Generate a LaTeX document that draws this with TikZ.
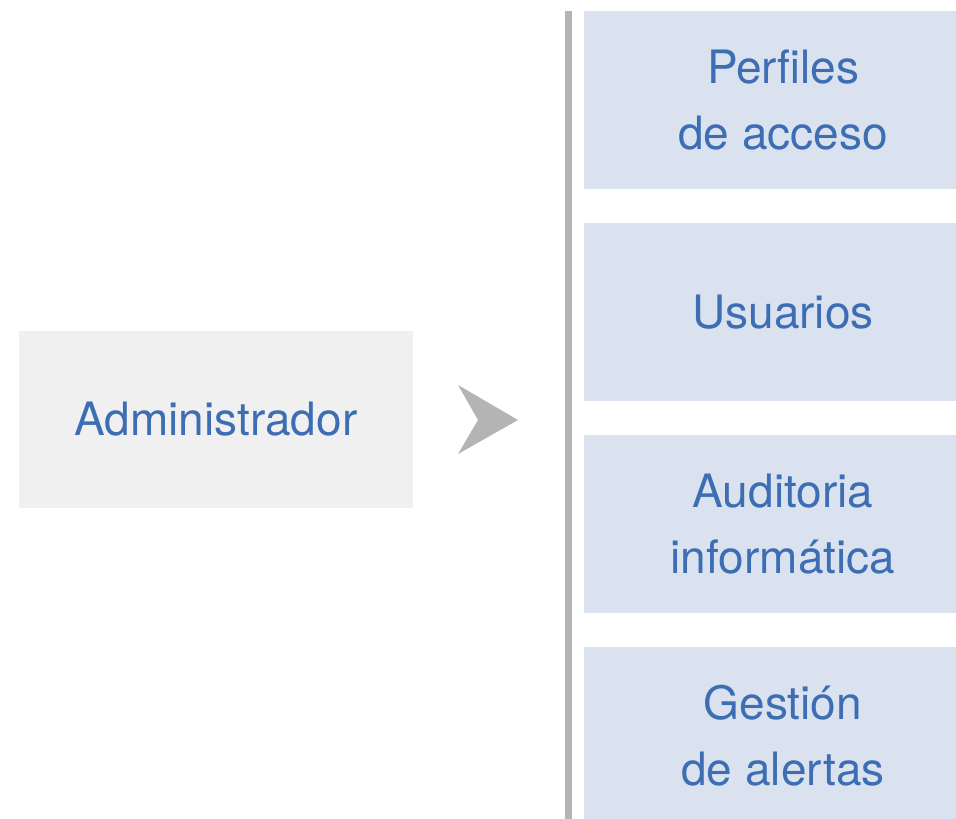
\documentclass[tikz,border=0pt]{standalone}
\usepackage{fontspec}
\setmainfont{TeX Gyre Heros}
\definecolor{txtblue}{RGB}{61,110,180}
\definecolor{boxblue}{RGB}{217,226,238}
\definecolor{boxgrey}{RGB}{240,240,240}
\definecolor{linegrey}{RGB}{180,180,180}
\tikzset{
  labeltext/.style={text=txtblue, font=\fontsize{46}{66}\selectfont, align=center, inner sep=0pt},
  bluebox/.style={labeltext, fill=boxblue, minimum width=398pt, minimum height=178pt},
  greybox/.style={labeltext, fill=boxgrey, minimum width=394pt, minimum height=177pt},
  sepline/.style={draw=linegrey, line width=7pt},
  chevron/.style={fill=linegrey}
}
\begin{document}
\begin{tikzpicture}[x=1pt,y=-1pt]
\useasboundingbox (0,0) rectangle (956,819);
\node[greybox] (admin) at (216,419.5) {Administrador};
\node[bluebox] (perfiles) at (783,100) {Perfiles\\de acceso};
\node[bluebox] (usuarios) at (783,312) {Usuarios};
\node[bluebox] (auditoria) at (783,524) {Auditoria\\informática};
\node[bluebox] (gestion) at (783,736) {Gestión\\de alertas};
\coordinate (lineTop) at (568.5,11);
\coordinate (lineBot) at (568.5,830);
\draw[sepline] (lineTop) -- (lineBot);
\coordinate (tip) at (518,420);
\fill[chevron] (458,385) -- (tip) -- (458,454) -- (478,420) -- cycle;
\end{tikzpicture}
\end{document}
